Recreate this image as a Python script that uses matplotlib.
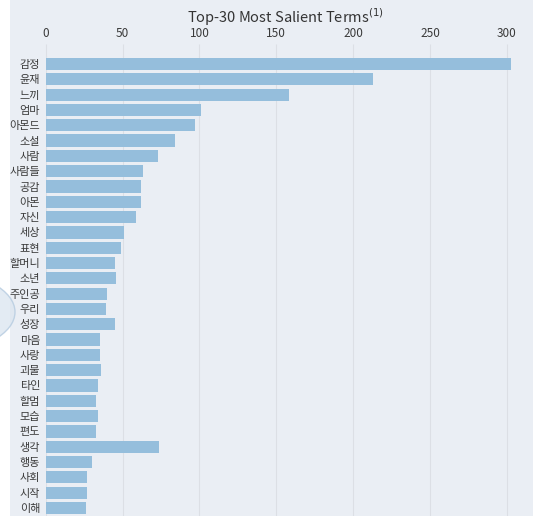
import numpy as np
import matplotlib.pyplot as plt
from matplotlib.patches import Ellipse

plt.rcParams['font.family'] = ['Noto Sans CJK KR', 'DejaVu Sans']

terms = ['감정', '윤재', '느끼', '엄마', '아몬드', '소설', '사람', '사람들', '공감', '아몬',
         '자신', '세상', '표현', '할머니', '소년', '주인공', '우리', '성장', '마음', '사랑',
         '괴물', '타인', '할멈', '모습', '편도', '생각', '행동', '사회', '시작', '이해']
freq = [303, 213, 158, 101, 97, 84.4, 73, 63, 62, 62,
        59, 51, 49, 45, 46, 40, 39, 45, 35, 35,
        36, 34, 33, 34, 33, 74, 30, 27, 27, 26]
xticks = [0, 50, 100, 150, 200, 250, 300]

bg = '#eaeef4'
fig = plt.figure(figsize=(5.33, 5.16), dpi=100, facecolor=bg)
# white strip at the left edge and a piece of a topic circle
fig.patches.append(plt.Rectangle((0, 0), 10 / 533, 1, transform=fig.transFigure,
                                 facecolor='white', edgecolor='none', zorder=0))
fig.patches.append(Ellipse((-60 / 533, 1 - 312 / 516), 150 / 533, 80 / 516,
                           transform=fig.transFigure, facecolor='#dde6f0',
                           edgecolor='#b5cbe0', linewidth=1.0, alpha=0.8, zorder=1))

ax = fig.add_axes([45.7 / 533, 0.4 / 516, (513 - 45.7) / 533, 459.2 / 516])
ax.set_facecolor(bg)
ax.patch.set_alpha(0)

y = np.arange(len(terms))
ax.barh(y, freq, height=0.8, color='#95bedc', zorder=2)
ax.set_ylim(len(terms) - 0.5, -0.5)
ax.set_xlim(0, 304)
ax.set_yticks(y)
ax.set_yticklabels(terms, fontsize=8, color='#3a3a3a')
ax.set_xticks(xticks)
ax.xaxis.tick_top()
ax.tick_params(axis='x', length=9, color='#dcdfe5', labelsize=8.5, labelcolor='#3a3a3a', pad=3)
ax.tick_params(axis='y', length=0, pad=4)
ax.grid(True, axis='x', color='#dcdfe5', linewidth=0.8, zorder=1)
ax.set_axisbelow(True)
for s in ax.spines.values():
    s.set_visible(False)

fig.text(285 / 533, 1 - 17 / 516, 'Top-30 Most Salient Terms$^{(1)}$', ha='center', va='center',
         fontsize=10.5, color='#333333')

plt.savefig('out.png', dpi=100, facecolor=bg)
